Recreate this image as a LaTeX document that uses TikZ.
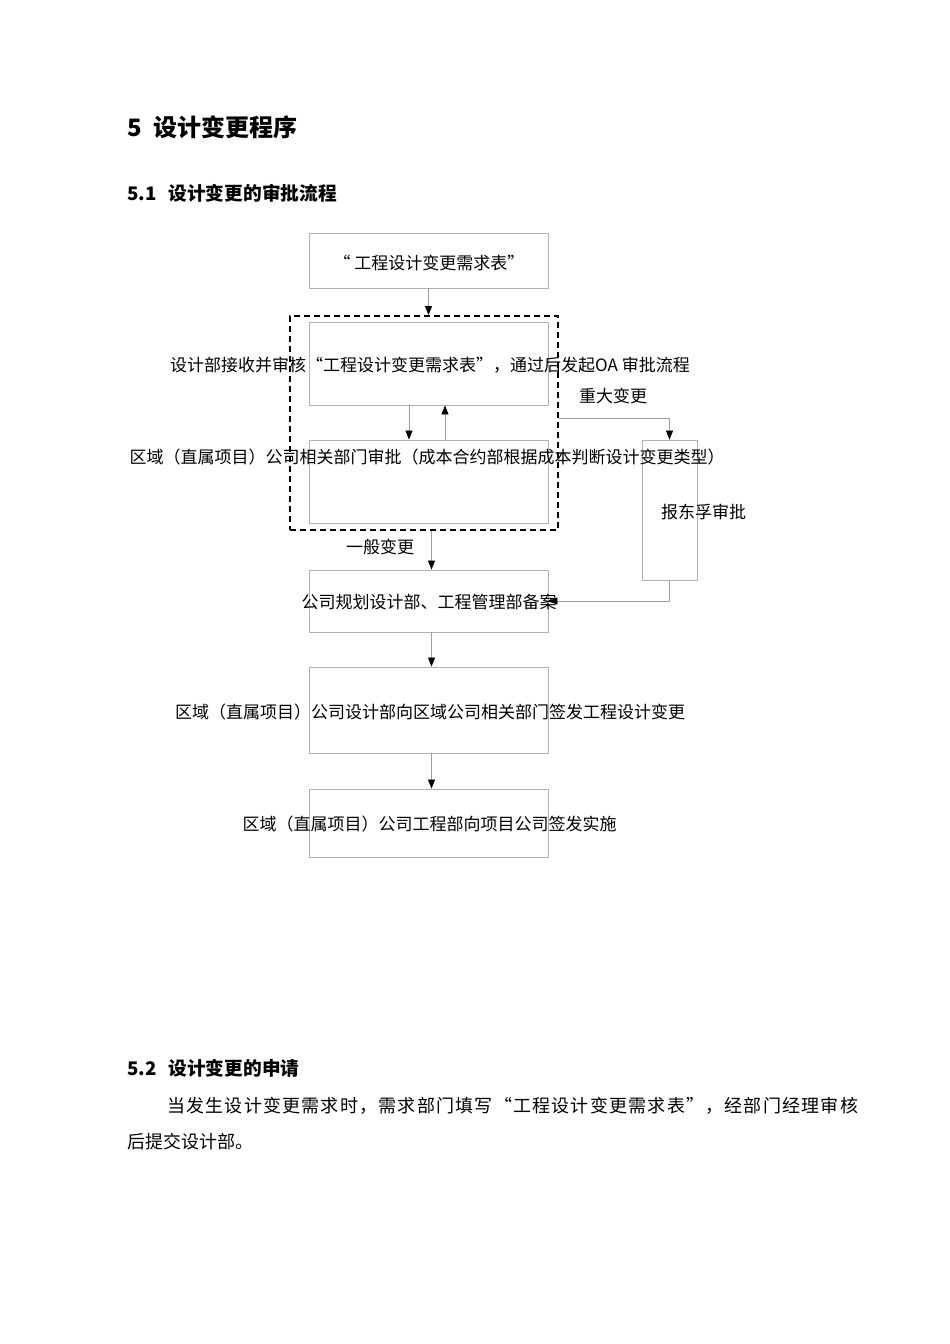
\documentclass[tikz,border=0pt]{standalone}
\usepackage{fontspec}
\setmainfont{Noto Sans CJK SC}
\newfontfamily\parafont[LetterSpace=6.8]{Noto Sans CJK SC}
\usetikzlibrary{arrows.meta,calc}
\begin{document}
\begin{tikzpicture}[x=1pt,y=-1pt,
  box/.style={draw=black!30,line width=0.9pt,inner sep=0pt,rectangle},
  conn/.style={draw=black!38,line width=0.8pt},
  arr/.style={conn,-{Triangle[length=9pt,width=7pt,fill=black,color=black]}},
  grpbox/.style={draw=black,line width=1.8pt,dash pattern=on 6pt off 4pt,inner sep=0pt,rectangle},
  txt/.style={inner sep=0pt,font=\fontsize{17}{17}\selectfont},
  lbl/.style={inner sep=0pt,font=\fontsize{17}{17}\selectfont},
  hone/.style={inner sep=0pt,anchor=west,font=\fontsize{24}{24}\selectfont\bfseries},
  htwo/.style={inner sep=0pt,anchor=west,font=\fontsize{18.7}{18.7}\selectfont\bfseries},
  para/.style={inner sep=0pt,anchor=west,font=\fontsize{18}{18}\selectfont}]
\useasboundingbox (0,0) rectangle (950,1344);
\fill[white] (0,0) rectangle (950,1344);

% headings
\node[hone] (h1) at (127,127) {5\hspace{12pt}设计变更程序};
\node[htwo] (h2) at (127,193) {5.1\hspace{12pt}设计变更的审批流程};
\node[htwo] (h3) at (127,1068) {5.2\hspace{12pt}设计变更的申请};
\node[para] (p1) at (167,1106) {\parafont 当发生设计变更需求时，需求部门填写“工程设计变更需求表”，经部门经理审核};
\node[para] (p2) at (127,1142) {后提交设计部。};

% boxes
\node[box,minimum width=239,minimum height=55] (b1) at (428.5,260.5) {};
\node[grpbox,minimum width=268,minimum height=214] (grp) at (424,423) {};
\node[box,minimum width=239,minimum height=83] (b2) at (428.5,363.5) {};
\node[box,minimum width=239,minimum height=83] (b3) at (428.5,481.5) {};
\node[box,minimum width=55,minimum height=140] (rb) at (669.5,510) {};
\node[box,minimum width=239,minimum height=62] (b4) at (428.5,601) {};
\node[box,minimum width=239,minimum height=86] (b5) at (428.5,710) {};
\node[box,minimum width=239,minimum height=68] (b6) at (428.5,823) {};

% texts
\node[txt] (t1) at (429,263) {“ 工程设计变更需求表”};
\node[txt] (t2) at (430,365) {设计部接收并审核“工程设计变更需求表”，通过后发起OA 审批流程};
\node[txt] (t3) at (427,457) {区域（直属项目）公司相关部门审批（成本合约部根据成本判断设计变更类型）};
\node[txt] (trb) at (703.5,512) {报东孚审批};
\node[txt] (t4) at (429,602) {公司规划设计部、工程管理部备案};
\node[txt] (t5) at (430,712) {区域（直属项目）公司设计部向区域公司相关部门签发工程设计变更};
\node[txt] (t6) at (429.5,824) {区域（直属项目）公司工程部向项目公司签发实施};
\node[lbl] (lmaj) at (613,396) {重大变更};
\node[lbl] (lgen) at (380,547) {一般变更};

% connectors
\coordinate (majY) at (0,418);
\coordinate (gx) at (431.5,0);
\draw[arr] (b1.south) -- (b1.south |- grp.north);
\draw[arr] ([xshift=-19.5pt]b2.south) -- ([xshift=-19.5pt]b3.north);
\draw[arr] ([xshift=16.5pt]b3.north) -- ([xshift=16.5pt]b2.south);
\draw[arr] (grp.east |- majY) -| (rb.north);
\draw[arr] (rb.south) |- (b4.east);
\draw[arr] (grp.south -| gx) -- (b4.north -| gx);
\draw[arr] (b4.south -| gx) -- (b5.north -| gx);
\draw[arr] (b5.south -| gx) -- (b6.north -| gx);
\end{tikzpicture}
\end{document}
